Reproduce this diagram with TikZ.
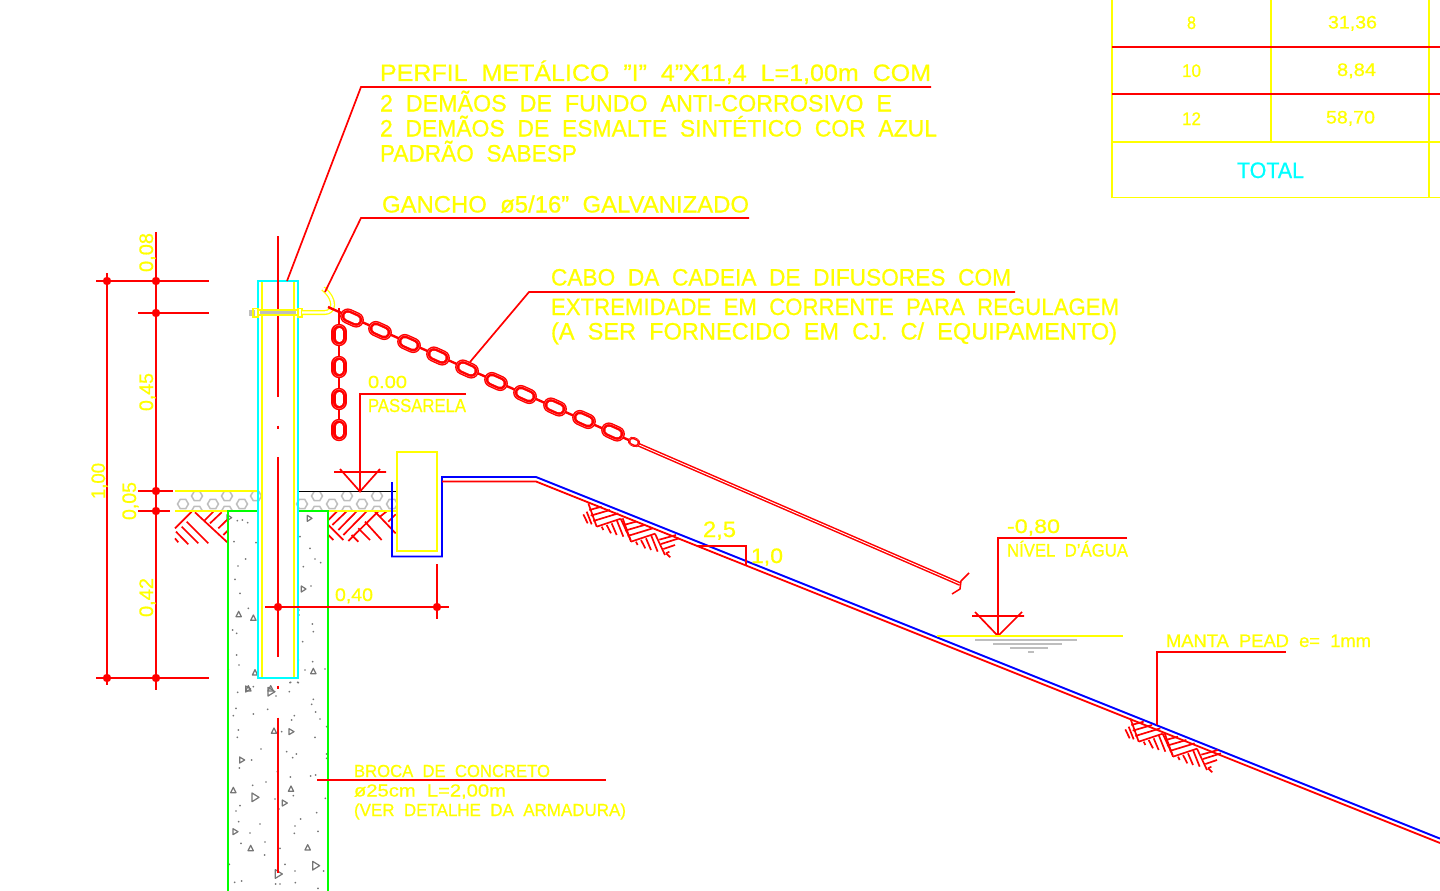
\documentclass[tikz,border=0pt]{standalone}
\usepackage{fontspec}
\usepackage{graphicx}
\setmainfont{Liberation Sans}[RawFeature={embolden=0.7}]
\definecolor{cadred}{RGB}{255,0,0}
\definecolor{cadyellow}{RGB}{255,255,0}
\definecolor{cadcyan}{RGB}{0,255,255}
\definecolor{cadblue}{RGB}{0,0,255}
\definecolor{cadgreen}{RGB}{0,255,0}
\definecolor{cadgrey}{RGB}{118,118,118}
\definecolor{hexgrey}{RGB}{190,190,190}
\definecolor{pale}{RGB}{255,150,150}
% width, cap height, text (box is forced to the cap height so that accents do not count)
\newcommand\cadtext[3]{\resizebox{#1pt}{#2pt}{\raisebox{0pt}[.716em][0pt]{\mbox{#3}}}}
\newcommand\chainlink[5][1]{%
  \draw[line cap=round,cadred,line width=15.4*#1] (#2,#3)--(#4,#5);
  \draw[line cap=round,pale,line width=12.6*#1] (#2,#3)--(#4,#5);
  \draw[line cap=round,cadred,line width=11.8*#1] (#2,#3)--(#4,#5);
  \draw[line cap=round,white,line width=7*#1] (#2,#3)--(#4,#5);}
\newcommand\hatchmodule{%
  \draw[rl] (0,0)--(25,70) (3,20)--(40,10) (7,37)--(65,20) (15,53)--(90,30) (25,70)--(97,46);
  \draw[rl] (97,46)--(127,110);
  \draw[rl] (40,70)--(45,80) (55,65)--(68,90) (70,60)--(85,95) (85,50)--(105,100);}
\newcommand\slopehatch[2]{%
  \begin{scope}[shift={(#1,#2)},scale=1/3]
    \draw[rl] (25,58)--(38,85) (35,50)--(50,88);
    \begin{scope}[shift={(40,25)}]\hatchmodule\end{scope}
    \begin{scope}[shift={(143,70)}]\hatchmodule\end{scope}
    \begin{scope}[shift={(248,112)}]
      \draw[rl] (5,22)--(55,8) (10,35)--(64,18) (17,50)--(52,38) (25,63)--(35,58) (25,63)--(38,75);
      \end{scope}
  \end{scope}}
\tikzset{
  rl/.style={cadred,line width=1.7pt},
  gl/.style={cadgreen,line width=1.9pt},
  yl/.style={cadyellow,line width=1.7pt},
  cl/.style={cadcyan,line width=1.7pt},
  bl/.style={cadblue,line width=1.9pt},
  dimdot/.style={fill=cadred,draw=none},
  txt/.style={inner sep=0pt,outer sep=0pt,text=cadyellow,anchor=base west},
  vtxt/.style={txt,rotate=90},
  conc/.style={cadgrey,line width=1.2pt,line join=round},
  hexa/.style={hexgrey,line width=1.5pt},
}
\begin{document}
\begin{tikzpicture}[x=1pt,y=-1pt]
\useasboundingbox (0,0) rectangle (1440,891);
\fill[white] (0,0) rectangle (1440,891);
\clip (0,0) rectangle (1440,891);

% ---------- table
\draw[pale,line width=1pt] (1112,0)--(1440,0);
\draw[yl] (1112,0)--(1112,197.5) (1271,0)--(1271,142) (1429,0)--(1429,197.5);
\draw[yl] (1112,142)--(1440,142) (1112,197.5)--(1440,197.5);
\draw[rl,line width=1.8pt] (1112,47)--(1440,47) (1112,94)--(1440,94);
\node[txt] (t8) at (1187,29) {\cadtext{9}{13}{8}};
\node[txt] (t3136) at (1328,28.5) {\cadtext{49}{13}{31,36}};
\node[txt] (t10) at (1182,77) {\cadtext{19}{13}{10}};
\node[txt] (t884) at (1337,76) {\cadtext{39}{13}{8,84}};
\node[txt] (t12) at (1182,125) {\cadtext{19}{13}{12}};
\node[txt] (t5870) at (1326,123.5) {\cadtext{49}{13}{58,70}};
\node[txt,text=cadcyan] (ttotal) at (1237,178) {\cadtext{67}{16}{TOTAL}};

% ---------- concrete shaft
\begin{scope}[shift={(80,440)},scale=1/3]
  \foreach \x/\y in {472/242,487/240,503/248,462/305,528/308,660/290,690/325,705/357,722/368,670/380,497/357,474/378,465/418,480/460,693/438,505/505,657/510,657/525,458/570,470/580,697/552,700/575,668/605,470/645,477/675,655/660,698/665,675/690,735/687,445/688,630/728,655/728}
    \fill[cadgrey] (\x,\y) circle (2.8);
  \foreach \x/\y in {476/522,520/533,525/697,505/745,572/745,700/693}
    \draw[conc] (\x-8,\y+8)--(\x+8,\y+8)--(\x,\y-8)--cycle;
  \foreach \x/\y in {447/233,670/447,688/235}
    \draw[conc] (\x-6,\y-9)--(\x+8,\y)--(\x-6,\y+9)--cycle;
\end{scope}
\begin{scope}[shift={(200,680)},scale=1/3]
  \foreach \x/\y in {272/7,293/7,160/20,113/37,268/35,228/48,340/58,335/73,108/85,203/88,347/96,100/107,160/102,283/107,275/120,360/117,380/140,115/150,245/155,112/172,345/172,183/207,260/215,289/222,278/233,380/222,380/235,155/240,118/264,232/275,271/291,332/288,347/285,198/306,158/316,280/347,225/357,376/355,120/377,108/393,237/387,350/398,302/417,116/425,180/432,285/438,354/454,150/459,283/460,123/490,195/486,240/505,194/525,255/553,88/553,371/573,285/573,125/603,104/607,227/612,240/612,286/608,354/625}
    \fill[cadgrey] (\x,\y) circle (2.8);
  \foreach \x/\y in {222/152,100/330,273/326,152/504,323/502}
    \draw[conc] (\x-8,\y+8)--(\x+8,\y+8)--(\x,\y-8)--cycle;
  \foreach \x/\y in {143/27,273/155,125/240,105/455,253/369}
    \draw[conc] (\x-6,\y-9)--(\x+9,\y)--(\x-6,\y+9)--cycle;
  \foreach \x/\y in {213/35,165/352,347/557,235/582}
    \draw[conc] (\x-9,\y-13)--(\x+12,\y)--(\x-9,\y+13)--cycle;
\end{scope}

% ---------- floor band: hexagons
\begin{scope}
  \clip (175,491) rectangle (397,511);
  \foreach \x/\y in {183/504,197/496,213/504,227/496,242/504,256/496,197/511,227/511,302/504,317/496,332/504,347/496,362/504,377/496,392/504,317/511,347/511,377/511}
    \draw[hexa] (\x-5.5,\y)--(\x-2.7,\y-4.7)--(\x+2.7,\y-4.7)--(\x+5.5,\y)--(\x+2.7,\y+4.7)--(\x-2.7,\y+4.7)--cycle;
\end{scope}

% ---------- earth hatching
\begin{scope}[shift={(170,485)},scale=1/3]
  \draw[rl] (15,130)--(65,80) (75,82)--(172,172) (50,110)--(115,175) (35,125)--(85,175)
            (18,140)--(55,178) (15,160)--(25,172)
            (105,105)--(130,80) (120,115)--(155,82) (145,130)--(173,103) (160,150)--(175,135);
\end{scope}
\begin{scope}[shift={(325,485)},scale=1/3]
  \draw[rl] (10,105)--(36,79) (22,120)--(65,79) (40,135)--(95,79) (55,150)--(125,79)
            (70,168)--(160,79) (10,120)--(55,165) (10,150)--(25,165)
            (80,150)--(100,170) (100,130)--(135,165) (120,110)--(170,165) (150,80)--(212,145)
            (165,95)--(185,79) (190,110)--(212,88);
\end{scope}

% ---------- floor lines
\draw[yl] (175,491)--(258,491) (175,511)--(228,511) (328,511)--(397,511);
\draw[black,line width=1.7pt] (298,491.5)--(398,491.5);

% ---------- shaft and post
\draw[gl] (228,891)--(228,511)--(258,511) (298,511)--(328,511)--(328,891);
\draw[yl] (262,281)--(262,678) (294,281)--(294,678);
\draw[cl] (258,281) rectangle (298,678);
\draw[rl,line width=1.8pt] (278,236)--(278,397) (278,425.5)--(278,428.5) (278,457)--(278,657) (278,685.5)--(278,688.5) (278,717.5)--(278,873);

% ---------- bolt and hook
\fill[hexgrey] (249,309.5) rectangle (255,315.5);
\draw[hexgrey,line width=2.4pt] (260,312.5)--(296,312.5);
\draw[yl,line width=1.3pt] (253,308.5) rectangle (258,317) (298,308.5) rectangle (302,317);
\draw[yl,line width=1.3pt] (258,310)--(298,310) (258,315)--(298,315);
\draw[cadyellow,line width=1.3pt,double=white,double distance=2.4pt,line join=round]
  (302,312.5)--(325,312.5) .. controls (334,312.5) and (337,300) .. (323,288.5);

% ---------- chains
\draw[rl,line width=2.4pt] (328,307)--(640,445);
\draw[cadred,line width=1.5pt,double=white,double distance=.9pt] (638,444.5)--(960,584);
\draw[rl,line width=1.5pt,line join=round] (969,573)--(961,581)--(960,589)--(952,594);
\draw[rl,line width=2.4pt] (339,308)--(339,422);
\foreach \x/\y in {352/318,380/330.5,409/343.5,438/356,467/369,496/381.5,525/394.5,555/407,584/419.5,613/432}
  {\chainlink{\x-4.2}{\y-1.9}{\x+4.2}{\y+1.9}}
\foreach \y in {335,367,399,430}
  {\chainlink{339}{\y-3.5}{339}{\y+3.5}}
\chainlink[.6]{632.5}{441.3}{635.5}{442.7}

% ---------- membrane and channel
\draw[yl] (397,452) rectangle (437,551);
\draw[bl,line join=miter] (392,482)--(392,556.5)--(442,556.5)--(442,477)--(536,477)--(1440,838.6);
\draw[rl,line width=1.8pt,line join=miter] (442,481.5)--(536,481.5)--(1440,843);
\slopehatch{575}{495}
\slopehatch{1117}{710}

% ---------- slope triangle
\draw[rl,line join=miter] (697,546)--(746,546)--(746,566);
\node[txt] (t25) at (703,537) {\cadtext{33}{16}{2,5}};
\node[txt] (t10b) at (751,563) {\cadtext{32}{15}{1,0}};

% ---------- dimensions
\draw[rl] (107,273)--(107,685) (156,232)--(156,690);
\draw[rl] (96,281)--(209,281) (138,313)--(209,313) (138,491)--(173,491) (138,511)--(170,511) (96,678)--(209,678);
\foreach \x/\y in {107/281,156/281,156/313,156/491,156/511,107/678,156/678,278/607,437/607}
  \fill[dimdot] (\x,\y) circle (4.2);
\draw[rl] (265,607)--(449,607) (437,564)--(437,619);
\node[vtxt] (d008) at (153,272) {\cadtext{39}{14}{0,08}};
\node[vtxt] (d045) at (153,411) {\cadtext{38}{14}{0,45}};
\node[vtxt] (d100) at (105,499) {\cadtext{36}{14}{1,00}};
\node[vtxt] (d005) at (136,520) {\cadtext{38}{14}{0,05}};
\node[vtxt] (d042) at (153,617) {\cadtext{39}{14}{0,42}};
\node[txt] (d040) at (335,601) {\cadtext{38}{13}{0,40}};

% ---------- level marks
\draw[rl,line join=miter] (466,394)--(360,394)--(360,491.5);
\draw[rl,line join=miter] (334,472)--(386,472) (340,469)--(360,491.5)--(380,469);
\node[txt] (l000) at (368,388) {\cadtext{39}{12.5}{0.00}};
\node[txt] (lpass) at (368,412) {\cadtext{98}{13.5}{PASSARELA}};

\draw[rl,line join=miter] (1127,538)--(998,538)--(998,636);
\draw[rl,line join=miter] (972,616)--(1024,616) (975,612)--(998,636)--(1022,612);
\draw[yl] (937,636)--(1123,636);
\draw[hexgrey,line width=1.5pt] (975,640)--(1077,640) (993,644)--(1062,644) (1010,648)--(1048,648) (1028,652)--(1034,652);
\node[txt] (l080) at (1007,533) {\cadtext{53}{14}{-0,80}};
\node[txt] (lniv) at (1007,556.5) {\cadtext{121}{13}{NÍVEL~~D’ÁGUA}};

% ---------- leaders and notes
\draw[rl,line join=miter] (287,281)--(361,87)--(931,87);
\node[txt] (n1) at (380,81) {\cadtext{551}{17}{PERFIL~~METÁLICO~~"I"~~4"X11,4~~L=1,00m~~COM}};
\node[txt] (n2) at (380,111.5) {\cadtext{512}{17}{2~~DEMÃOS~~DE~~FUNDO~~ANTI-CORROSIVO~~E}};
\node[txt] (n3) at (380,136.5) {\cadtext{557}{17}{2~~DEMÃOS~~DE~~ESMALTE~~SINTÉTICO~~COR~~AZUL}};
\node[txt] (n4) at (380,161.5) {\cadtext{197}{17}{PADRÃO~~SABESP}};

\draw[rl,line join=miter] (325,292)--(361,218)--(749,218);
\node[txt] (g1) at (382,212.5) {\cadtext{367}{17}{GANCHO~~ø5/16"~~GALVANIZADO}};

\draw[rl,line join=miter] (470,362)--(529,292)--(1015,292);
\node[txt] (c1) at (551,285.5) {\cadtext{460}{17}{CABO~~DA~~CADEIA~~DE~~DIFUSORES~~COM}};
\node[txt] (c2) at (551,315) {\cadtext{568}{17}{EXTREMIDADE~~EM~~CORRENTE~~PARA~~REGULAGEM}};
\node[txt] (c3) at (551,339.5) {\cadtext{566}{17}{(A~~SER~~FORNECIDO~~EM~~CJ.~~C/~~EQUIPAMENTO)}};

\draw[rl,line join=miter] (1157,725)--(1157,652)--(1286,652);
\node[txt] (m1) at (1166,647) {\cadtext{205}{13}{MANTA~~PEAD~~e=~~1mm}};

\draw[rl] (317,780)--(606,780);
\node[txt] (b1) at (354,777) {\cadtext{196}{12.5}{BROCA~~DE~~CONCRETO}};
\node[txt] (b2) at (354,796.5) {\cadtext{152}{12.5}{ø25cm~~L=2,00m}};
\node[txt] (b3) at (354,816) {\cadtext{272}{12.5}{(VER~~DETALHE~~DA~~ARMADURA)}};
\end{tikzpicture}
\end{document}
